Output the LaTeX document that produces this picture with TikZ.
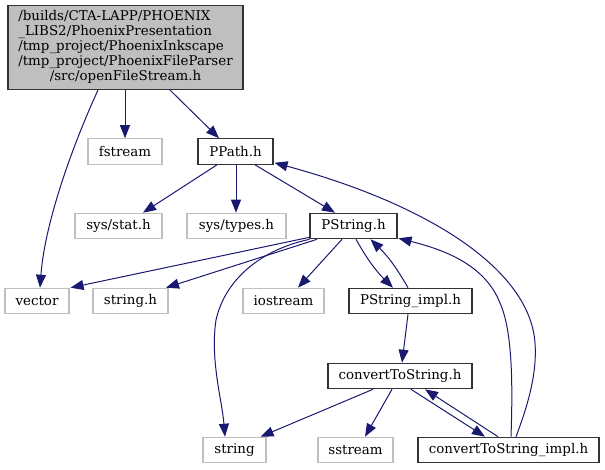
\documentclass[tikz,border=0pt]{standalone}
\usepackage{fontspec}
\setmainfont{DejaVu Serif}
\usetikzlibrary{arrows.meta}
\definecolor{edgec}{HTML}{191970}
\definecolor{extc}{HTML}{BFBFBF}
\definecolor{mainfill}{HTML}{BFBFBF}
\definecolor{nodec}{HTML}{333333}
\begin{document}
\begin{tikzpicture}[x=1pt,y=-1pt,
  every node/.style={font=\fontsize{13.4}{14.8}\selectfont, inner sep=0pt, minimum height=25.5pt},
  inc/.style={rectangle, draw=nodec, line width=1.1pt},
  ext/.style={rectangle, draw=extc, line width=1.1pt},
  mainnode/.style={rectangle, draw=nodec, fill=mainfill, line width=1.1pt},
  dep/.style={draw=edgec, line width=1pt, -{Triangle[length=13pt,width=10pt]}}]
\useasboundingbox (0,0) rectangle (605,469);
% nodes
\node[mainnode, minimum width=235pt, minimum height=84pt] (main) at (125.5,47.5)
  {\def\arraystretch{1}\begin{tabular}{@{}l@{}}/builds/CTA-LAPP/PHOENIX\\\_LIBS2/PhoenixPresentation\\/tmp\_project/PhoenixInkscape\\/tmp\_project/PhoenixFileParser\\\multicolumn{1}{@{}c@{}}{/src/openFileStream.h}\end{tabular}};
\node[ext, minimum width=74pt]  (fstream)  at (125,151.5) {fstream};
\node[inc, minimum width=75pt]  (PPath)    at (235.5,151.5) {PPath.h};
\node[ext, minimum width=87pt]  (sysstat)  at (118.5,226) {sys/stat.h};
\node[ext, minimum width=99pt]  (systypes) at (236.5,226) {sys/types.h};
\node[inc, minimum width=87pt]  (PString)  at (353.5,226) {PString.h};
\node[ext, minimum width=64pt]  (vector)   at (37,301) {vector};
\node[ext, minimum width=75pt]  (stringh)  at (130.5,301) {string.h};
\node[ext, minimum width=81pt]  (iostream) at (283.5,301) {iostream};
\node[inc, minimum width=123pt] (PStrImpl) at (410.5,301) {PString\_impl.h};
\node[inc, minimum width=144pt] (cts)      at (400,376) {convertToString.h};
\node[ext, minimum width=63pt]  (string)   at (234.5,450) {string};
\node[ext, minimum width=75pt]  (sstream)  at (355.5,450) {sstream};
\node[inc, minimum width=181pt] (ctsImpl)  at (508.5,450) {convertToString\_impl.h};
% edges
\draw[dep] ([xshift=-27.5pt]main.south) .. controls (75,140) and (45,220) .. ([xshift=3pt]vector.north);
\draw[dep] ([xshift=-0.5pt]main.south) -- (fstream.north);
\draw[dep] ([xshift=44.5pt]main.south) -- ([xshift=-16.5pt]PPath.north);
\draw[dep] ([xshift=-18.5pt]PPath.south) -- ([xshift=24.5pt]sysstat.north);
\draw[dep] ([xshift=0.5pt]PPath.south) -- ([xshift=-0.5pt]systypes.north);
\draw[dep] ([xshift=19.5pt]PPath.south) -- ([xshift=-18.5pt]PString.north);
\draw[dep] ([yshift=2pt]PString.south west) -- ([xshift=1pt]vector.north east);
\draw[dep] ([xshift=-36.5pt]PString.south) -- ([xshift=35.5pt]stringh.north);
\draw[dep] ([xshift=-44pt]PString.south) .. controls (260,250) and (225,280) .. (216,320)
   .. controls (210,360) and (222,400) .. ([xshift=-9.5pt]string.north);
\draw[dep] ([xshift=-11.5pt]PString.south) -- ([xshift=14.5pt]iostream.north);
\draw[dep] ([xshift=2.5pt]PString.south) to[bend right=8] ([xshift=-17.5pt]PStrImpl.north);
\draw[dep] ([xshift=-2.5pt]PStrImpl.north) to[bend right=8] ([xshift=17pt]PString.south);
\draw[dep] ([xshift=-2.5pt]PStrImpl.south) -- ([xshift=2pt]cts.north);
\draw[dep] ([xshift=-27pt]cts.south) -- ([xshift=-6pt]string.north east);
\draw[dep] ([xshift=-8pt]cts.south) -- ([xshift=9.5pt]sstream.north);
\draw[dep] ([xshift=11pt]cts.south) -- ([xshift=-23.5pt]ctsImpl.north);
\draw[dep] ([xshift=-10.5pt]ctsImpl.north) -- ([xshift=25pt]cts.south);
\draw[dep] ([xshift=2.5pt]ctsImpl.north) .. controls (513,380) and (512,330) .. (500,303)
   .. controls (485,265) and (445,250) .. ([xshift=1pt,yshift=1pt]PString.south east);
\draw[dep] ([xshift=7.5pt]ctsImpl.north) .. controls (530,400) and (537,370) .. (535,343)
   .. controls (530,270) and (430,205) .. ([xshift=1pt,yshift=2pt]PPath.south east);
\end{tikzpicture}
\end{document}
